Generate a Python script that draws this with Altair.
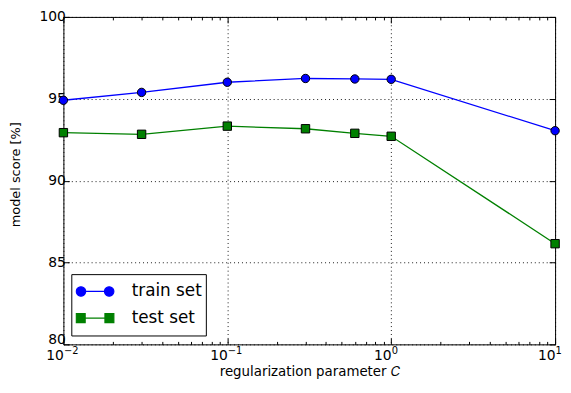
import math
import altair as alt
import pandas as pd

C_values = [0.01, 0.03, 0.1, 0.3, 0.6, 1.0, 10.0]
train_scores = [94.91, 95.39, 96.01, 96.24, 96.21, 96.19, 93.05]
test_scores = [92.93, 92.83, 93.33, 93.17, 92.89, 92.71, 86.15]
series_names = ["train set", "test set"]
series_colors = ["#0000ff", "#008000"]
series_shapes = ["circle", "square"]
x_major = [0.01, 0.1, 1, 10]
x_major_base = "10"
x_major_exponents = ["−2", "−1", "0", "1"]
x_minor = [0.02, 0.03, 0.04, 0.05, 0.06, 0.07, 0.08, 0.09,
           0.2, 0.3, 0.4, 0.5, 0.6, 0.7, 0.8, 0.9,
           2, 3, 4, 5, 6, 7, 8, 9]
y_ticks = [80, 85, 90, 95, 100]

rows = []
for c, s in zip(C_values, train_scores):
    rows.append({"C": c, "score": s, "series": series_names[0]})
for c, s in zip(C_values, test_scores):
    rows.append({"C": c, "score": s, "series": series_names[1]})
df = pd.DataFrame(rows)

x_values = sorted(x_major + x_minor)
major_test = "indexof(" + str(x_major) + ", datum.value) >= 0"
base_expr = f"{major_test} ? '{x_major_base}' : ''"
exp_expr = " : ".join(
    f"datum.value == {v} ? '{e}'" for v, e in zip(x_major, x_major_exponents)
) + " : ''"
y_bottom_tick = y_ticks[0]

xscale = alt.Scale(type="log", domain=[0.01, 10], nice=False)
yscale = alt.Scale(domain=[80, 100], nice=False, zero=False)
color_scale = alt.Scale(domain=series_names, range=series_colors)


# legend symbol shapes (unit space [-1, 1]): marker - line - marker
def poly_circle(cx, r, n=20):
    pts = [(cx + r * math.cos(2 * math.pi * k / n), r * math.sin(2 * math.pi * k / n)) for k in range(n)]
    return "M" + "L".join(f"{x:.3f},{y:.3f}" for x, y in pts) + "Z"


def poly_square(cx, h):
    return f"M{cx-h:.3f},{-h:.3f}L{cx+h:.3f},{-h:.3f}L{cx+h:.3f},{h:.3f}L{cx-h:.3f},{h:.3f}Z"


train_path = poly_circle(-0.75, 0.25) + poly_circle(0.75, 0.25) + "M-0.5,0L0.5,0"
test_path = poly_square(-0.763, 0.237) + poly_square(0.763, 0.237) + "M-0.526,0L0.526,0"

common_axis = dict(
    domain=False, labelFont="DejaVu Sans", titleFont="DejaVu Sans",
    labelColor="black", titleColor="black",
    titleFontWeight="normal", tickColor="black", tickWidth=1,
)
x_ticksize = {"condition": {"test": major_test, "value": -6}, "value": -3}

x_bottom = alt.Axis(
    orient="bottom", values=x_values, labelExpr=base_expr,
    labelFontSize=14, labelAlign="right", labelOffset=0,
    title="regularization parameter 𝐶", titleFontSize=13.5,
    titleY=31.6, titleBaseline="alphabetic",
    tickSize=x_ticksize,
    grid=True, gridColor="black", gridDash=[1, 3], gridWidth=1,
    gridOpacity={"condition": {"test": major_test, "value": 0.9}, "value": 0},
    labelPadding=10.5, labelFlush=False, labelOverlap=False, **common_axis,
)
x_bottom_exp = alt.Axis(
    orient="bottom", values=x_values, labelExpr=exp_expr,
    labelFontSize=10, labelAlign="left", labelOffset=0,
    title=None, tickSize=x_ticksize, tickOpacity=0, grid=False,
    labelPadding=7.5, labelFlush=False, labelOverlap=False, **common_axis,
)
x_top = alt.Axis(
    orient="top", values=x_values, labels=False, title=None, grid=False,
    tickSize=x_ticksize, **common_axis,
)
y_left = alt.Axis(
    orient="left", values=y_ticks, title="model score [%]",
    labelExpr=f"datum.value == {y_bottom_tick} ? '' : datum.label",
    labelFontSize=14, titleFontSize=13,
    titleX=-44, titleY=159, titleBaseline="alphabetic", titleAlign="center",
    tickSize={"expr": "-6"}, grid=True, gridColor="black", gridDash=[1, 3],
    gridWidth=1, gridOpacity=0.9, labelPadding=4,
    **common_axis,
)
y_left_bottom = alt.Axis(
    orient="left", values=[y_bottom_tick], title=None,
    labelFontSize=14, labelBaseline="alphabetic", labelOffset=-1,
    tickSize={"expr": "-6"}, tickOpacity=0, grid=False, labelPadding=4,
    **common_axis,
)
y_right = alt.Axis(
    orient="right", values=y_ticks, labels=False, title=None, grid=False,
    tickSize={"expr": "-6"}, **common_axis,
)

legend = alt.Legend(
    title=None, orient="none", legendX=8, legendY=260,
    fillColor="white", strokeColor="black", padding=4,
    labelFont="DejaVu Sans", labelFontSize=17, labelColor="black",
    labelExpr="datum.label + '  '",
    symbolSize=1444, clipHeight=27, labelOffset=17, rowPadding=0,
    symbolStrokeWidth=1.2, symbolOpacity=1,
)

base = alt.Chart(df)

lines = base.mark_line(strokeWidth=1.3, clip=False).encode(
    x=alt.X("C:Q", scale=xscale, axis=x_bottom),
    y=alt.Y("score:Q", scale=yscale, axis=y_left),
    stroke=alt.Stroke("series:N", scale=color_scale, legend=legend),
    detail="series:N",
)


def marker_layer(name, shape, xaxis, yaxis):
    return base.transform_filter(alt.datum.series == name).mark_point(
        shape=shape, filled=True, size=72, stroke="black", strokeWidth=1,
        opacity=1, clip=False,
    ).encode(
        x=alt.X("C:Q", scale=xscale, axis=xaxis),
        y=alt.Y("score:Q", scale=yscale, axis=yaxis),
        fill=alt.Fill("series:N", scale=color_scale, legend=legend),
    )


train_pts = marker_layer(series_names[0], series_shapes[0], x_bottom_exp, None)
test_pts = marker_layer(series_names[1], series_shapes[1], None, y_left_bottom)

legend_layer = base.transform_filter(alt.datum.C < 0).mark_point(
    filled=True, opacity=1, strokeWidth=1.2,
).encode(
    x=alt.X("C:Q", scale=xscale, axis=x_top),
    y=alt.Y("score:Q", scale=yscale, axis=y_right),
    fill=alt.Fill("series:N", scale=color_scale, legend=legend),
    stroke=alt.Stroke("series:N", scale=color_scale, legend=legend),
    shape=alt.Shape("series:N", scale=alt.Scale(domain=series_names, range=[train_path, test_path]),
                    legend=legend),
)

chart = alt.layer(lines, train_pts, test_pts, legend_layer).resolve_axis(
    x="independent", y="independent"
).properties(
    width=497, height=331,
    autosize=alt.AutoSizeParams(type="none"),
    padding={"left": 56, "top": 7, "right": 8, "bottom": 35},
).configure_view(stroke="black", strokeWidth=1)

chart.save("out.html", embed_options={"renderer": "svg", "actions": False})
